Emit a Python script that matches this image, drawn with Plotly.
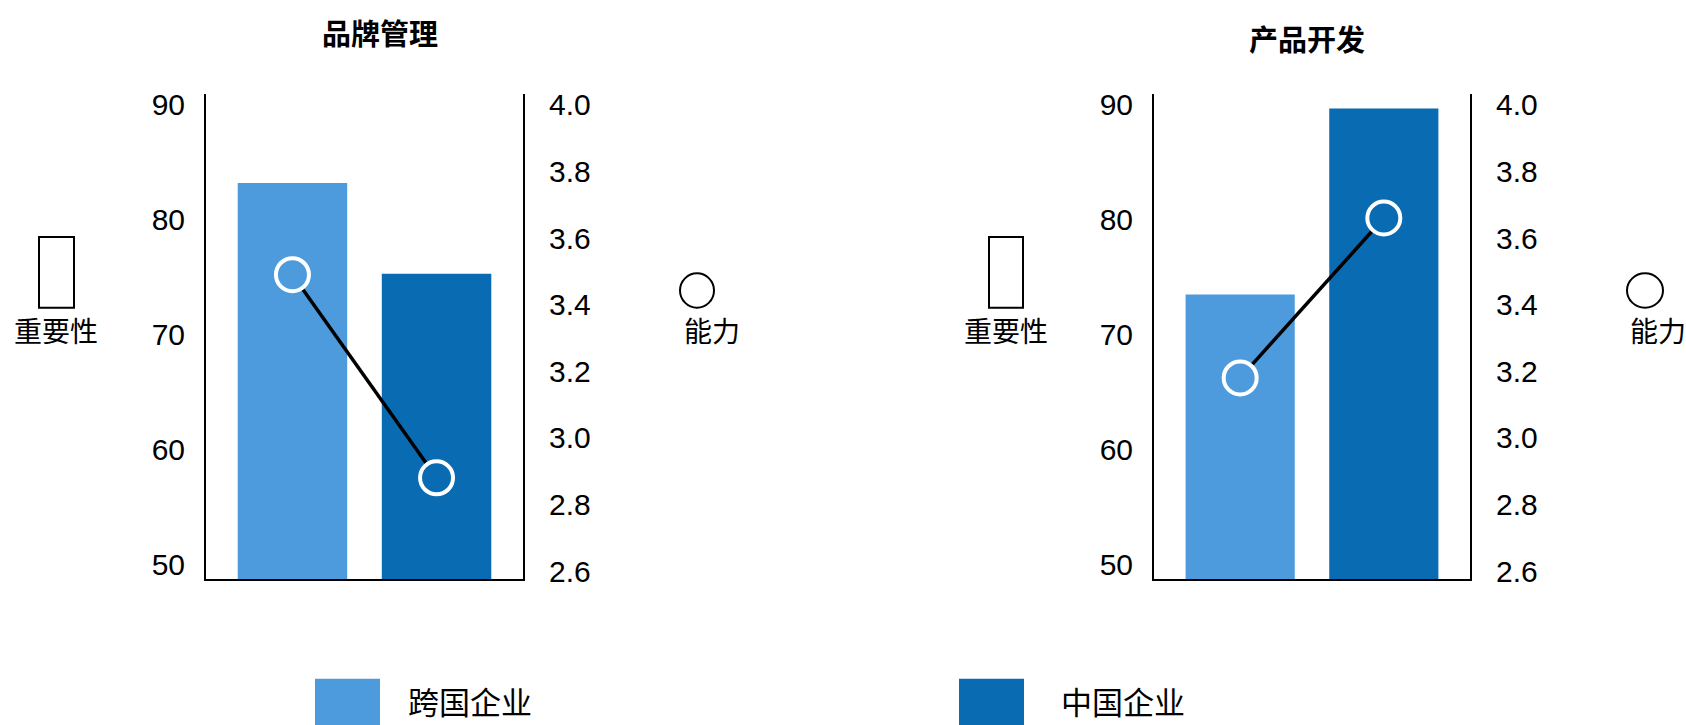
import plotly.graph_objects as go

W, H = 1686, 725

# ---- data ----
panels = ["品牌管理", "产品开发"]
companies = ["跨国企业", "中国企业"]
importance = {"品牌管理": [83.2, 75.3], "产品开发": [73.5, 89.7]}
capability = {"品牌管理": [3.49, 2.88], "产品开发": [3.18, 3.66]}
left_ticks = [50, 60, 70, 80, 90]
right_ticks = [2.6, 2.8, 3.0, 3.2, 3.4, 3.6, 3.8, 4.0]
right_tick_text = ["2.6", "2.8", "3.0", "3.2", "3.4", "3.6", "3.8", "4.0"]
axis_title_left = "重要性"
axis_title_right = "能力"

colors = ["#4D9BDC", "#096BB1"]


def px(x):
    return x / W


def py(y):
    return 1 - y / H


TICK_FONT = dict(family="Liberation Sans, Arial, sans-serif", size=30, color="black")
CJK = "Noto Sans CJK SC, sans-serif"

fig = go.Figure()

x_domains = [[px(206), px(523)], [px(1154), px(1470)]]
y_domain = [py(585), py(90)]

for i, p in enumerate(panels):
    xa = "x" if i == 0 else "x2"
    yl = "y" if i == 0 else "y3"
    yr = "y2" if i == 0 else "y4"
    fig.add_trace(go.Bar(
        x=companies, y=importance[p], xaxis=xa, yaxis=yl,
        marker=dict(color=colors, line=dict(width=0)), width=0.76,
        showlegend=False, hoverinfo="skip"))
    fig.add_trace(go.Scatter(
        x=companies, y=capability[p], xaxis=xa, yaxis=yr,
        mode="lines+markers",
        line=dict(color="black", width=3.5),
        marker=dict(size=33, color=colors, line=dict(color="white", width=4)),
        showlegend=False, hoverinfo="skip"))

xcommon = dict(showgrid=False, zeroline=False, showticklabels=False, ticks="",
               range=[-0.6, 1.6], showline=True, linecolor="black", linewidth=2,
               type="category", fixedrange=True)
ycommon_l = dict(showgrid=False, zeroline=False, range=[48.72, 90.94],
                 tickvals=left_ticks, ticktext=[str(v) for v in left_ticks],
                 tickfont=TICK_FONT, showline=True, linecolor="black", linewidth=2,
                 ticks="", ticklabelstandoff=13, domain=y_domain)
ycommon_r = dict(showgrid=False, zeroline=False, range=[2.5765, 4.032],
                 tickvals=right_ticks, ticktext=right_tick_text,
                 tickfont=TICK_FONT, showline=True, linecolor="black", linewidth=2,
                 ticks="", ticklabelstandoff=18, side="right")

fig.update_layout(
    width=W, height=H,
    margin=dict(l=0, r=0, t=0, b=0),
    paper_bgcolor="white", plot_bgcolor="white",
    barmode="overlay",
    showlegend=False,
    xaxis=dict(domain=x_domains[0], anchor="y", **xcommon),
    xaxis2=dict(domain=x_domains[1], anchor="y3", **xcommon),
    yaxis=dict(anchor="x", **ycommon_l),
    yaxis2=dict(anchor="x", overlaying="y", **ycommon_r),
    yaxis3=dict(anchor="x2", **ycommon_l),
    yaxis4=dict(anchor="x2", overlaying="y3", **ycommon_r),
)

annotations = []
shapes = []

# titles
title_pos = [(380, 27), (1307, 33)]
for p, (tx, ty) in zip(panels, title_pos):
    annotations.append(dict(text="<b>%s</b>" % p, x=px(tx), y=py(ty), xref="paper", yref="paper",
                            xanchor="center", yanchor="middle", showarrow=False,
                            font=dict(family=CJK, size=29, color="black")))

# side axis titles with symbols
side = [
    dict(rect=(39, 236, 74, 308), imp_x=56, circ=(680, 273, 714, 308), cap_x=682),
    dict(rect=(989, 236, 1023, 308), imp_x=1006, circ=(1627, 273, 1663, 308), cap_x=1628),
]
for s in side:
    x0, y0, x1, y1 = s["rect"]
    shapes.append(dict(type="rect", xref="paper", yref="paper",
                       x0=px(x0), y0=py(y1), x1=px(x1), y1=py(y0),
                       line=dict(color="black", width=2), fillcolor="white"))
    cx0, cy0, cx1, cy1 = s["circ"]
    shapes.append(dict(type="circle", xref="paper", yref="paper",
                       x0=px(cx0), y0=py(cy1), x1=px(cx1), y1=py(cy0),
                       line=dict(color="black", width=2), fillcolor="white"))
    annotations.append(dict(text=axis_title_left, x=px(s["imp_x"]), y=py(331), xref="paper", yref="paper",
                            xanchor="center", yanchor="middle", showarrow=False,
                            font=dict(family=CJK, size=28, color="black")))
    annotations.append(dict(text=axis_title_right, x=px(s["cap_x"]), y=py(331), xref="paper", yref="paper",
                            xanchor="left", yanchor="middle", showarrow=False,
                            font=dict(family=CJK, size=28, color="black")))

# bottom legend
legend_pos = [(315, 406), (959, 1059)]
for name, col, (sx, tx) in zip(companies, colors, legend_pos):
    shapes.append(dict(type="rect", xref="paper", yref="paper",
                       x0=px(sx), x1=px(sx + 65), y0=py(740), y1=py(687),
                       line=dict(width=0), fillcolor=col))
    annotations.append(dict(text=name, x=px(tx), y=py(709), xref="paper", yref="paper",
                            xanchor="left", yanchor="middle", showarrow=False,
                            font=dict(family=CJK, size=31, color="black")))

fig.update_layout(annotations=annotations, shapes=shapes)

fig.write_html("out.html", config={"displayModeBar": False})
